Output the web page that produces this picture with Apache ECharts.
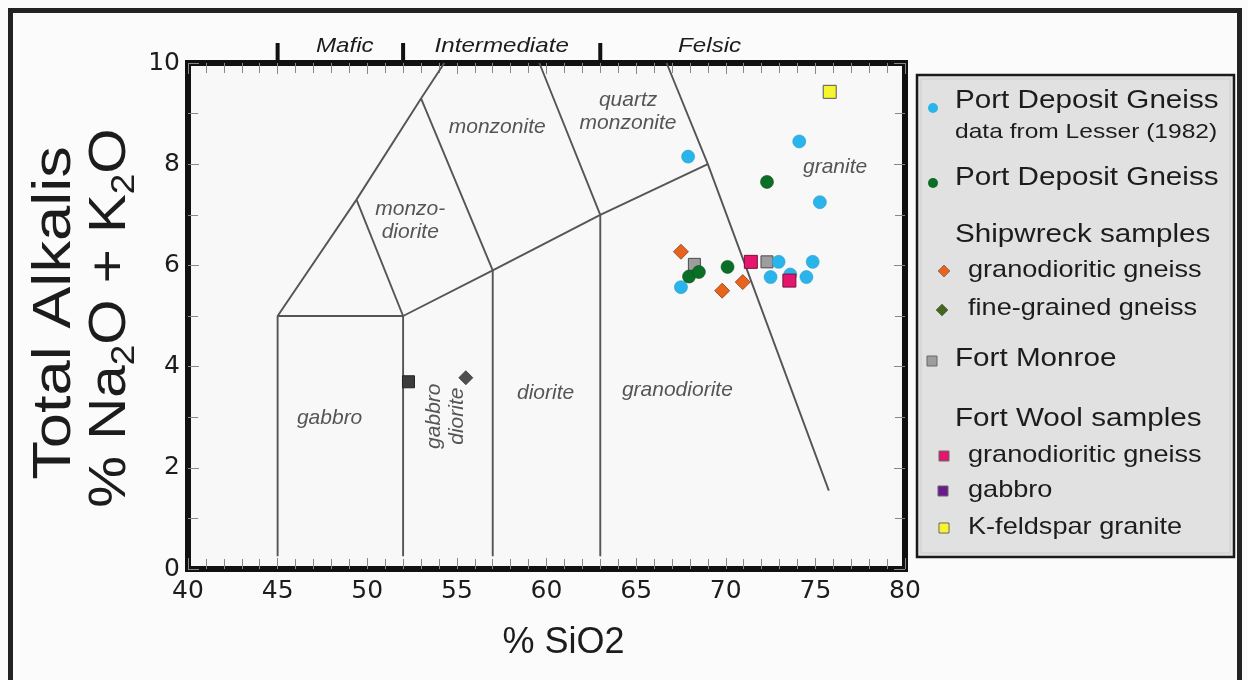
<!DOCTYPE html>
<html><head><meta charset="utf-8">
<script src="https://cdn.jsdelivr.net/npm/echarts@6/dist/echarts.min.js"></script>
<style>html,body{margin:0;padding:0;background:#fbfbfb}#c{width:1248px;height:680px}</style>
</head><body><div id="c"></div>
<script>
// ---------- data ----------
const xTickValues = [40, 45, 50, 55, 60, 65, 70, 75, 80];
const yTickValues = [0, 2, 4, 6, 8, 10];

const portDepositLesser = [[67.9,8.15],[74.1,8.45],[75.25,7.25],[72.95,6.07],[74.85,6.07],[72.5,5.77],[73.6,5.82],[74.5,5.77],[67.5,5.57]];
const portDeposit = [[72.3,7.65],[70.1,5.97],[67.95,5.78],[68.5,5.87]];
const shipwreckGranodioritic = [[67.5,6.27],[69.8,5.5],[70.95,5.67]];
const shipwreckFineGrained = [[55.5,3.78]];
const fortMonroe = [[68.25,6.02],[72.3,6.07]];
const fortWoolGranodioritic = [[71.4,6.07],[73.55,5.7]];
const fortWoolGabbro = [[52.3,3.7]];
const fortWoolKfeldspar = [[75.8,9.43]];

// TAS field boundaries (SiO2, Na2O+K2O)
const fieldLines = [
  [[45,0.25],[45,5],[52,5],[52,0.25]],
  [[45,5],[49.4,7.3],[53,9.3],[54.3,10]],
  [[49.4,7.3],[52,5],[57,5.9],[63,7],[69,8]],
  [[53,9.3],[57,5.9],[57,0.25]],
  [[59.6,10],[63,7],[63,0.25]],
  [[66.7,10],[69,8],[75.75,1.55]]
];
const fieldNames = ['monzonite','quartz\nmonzonite','granite','monzo-\ndiorite','gabbro','gabbro\ndiorite','diorite','granodiorite'];
const fieldNamePos = [[57.25,8.73],[64.55,9.03],[76.1,7.94],[52.4,6.88],[47.9,2.98],[54.4,3.02],[59.95,3.48],[67.3,3.54]];
const fieldNameRotated = [false,false,false,false,false,true,false,false];

const silicaBounds = [45, 52, 63];
const silicaClasses = ['Mafic','Intermediate','Felsic'];
const silicaClassCenters = [48.75, 57.5, 69.1];

const yTitleLines = ['Total Alkalis', '{a|% Na}{s|2}{a|O + K}{s|2}{a|O}'];
const xTitle = '% SiO2';

const legendLabels = ['Port Deposit Gneiss','data from Lesser (1982)','Port Deposit Gneiss','Shipwreck samples',
  'granodioritic gneiss','fine-grained gneiss','Fort Monroe','Fort Wool samples','granodioritic gneiss','gabbro','K-feldspar granite'];

// ---------- styles ----------
const FONT = '"Liberation Sans", Arial, sans-serif';
const C = {cyan:'#2ab5ea', green:'#0b6e26', orange:'#e8641e', fine:'#3f6a1e', fineDot:'#505050',
  gray:'#9d9d9d', pink:'#e3166c', purple:'#6a1a8c', gabbroDot:'#3c3c3c', yellow:'#f6f62e', text:'#1c1c1c'};

const chart = echarts.init(document.getElementById('c'), null, {renderer:'canvas'});

const lineSeries = fieldLines.map(pts => ({
  type:'line', data:pts, showSymbol:false, silent:true, z:1,
  lineStyle:{color:'#555', width:1.9}, animation:false
}));

function scatter(name, data, symbol, color, size, border, bw, z) {
  return {type:'scatter', name, data, symbol, symbolSize:size, z:z, animation:false,
    itemStyle:{color, opacity:1, borderColor:border, borderWidth:bw}};
}

const tickStyle = {inside:true, length:11, lineStyle:{color:'#888', width:1}};
const minorStyle = {show:true, length:10, lineStyle:{color:'#888', width:1}};

const option = {
  backgroundColor:'#fbfbfb',
  animation:false,
  grid:{left:188, right:343, top:63, bottom:111, show:true, borderWidth:6, borderColor:'#111', backgroundColor:'#f8f8f8'},
  xAxis:[{
    type:'value', min:40, max:80, interval:5, position:'bottom',
    axisLine:{show:false, onZero:false}, splitLine:{show:false},
    axisTick:tickStyle, minorTick:Object.assign({splitNumber:5}, minorStyle),
    axisLabel:{margin:10, fontSize:25, color:C.text, fontFamily:'"DejaVu Sans", sans-serif'},
    name:xTitle, nameLocation:'middle', nameGap:56,
    nameTextStyle:{fontSize:36, color:C.text, fontFamily:FONT, padding:[0,0,0,34]}
  },{
    type:'value', min:40, max:80, interval:5, position:'top',
    axisLine:{show:false, onZero:false}, splitLine:{show:false}, axisLabel:{show:false},
    axisTick:tickStyle, minorTick:Object.assign({splitNumber:5}, minorStyle)
  }],
  yAxis:[{
    type:'value', min:0, max:10, interval:2, position:'left',
    axisLine:{show:false, onZero:false}, splitLine:{show:false},
    axisTick:tickStyle, minorTick:Object.assign({splitNumber:2}, minorStyle),
    axisLabel:{margin:8, fontSize:25, color:C.text, fontFamily:'"DejaVu Sans", sans-serif'}
  },{
    type:'value', min:0, max:10, interval:2, position:'right',
    axisLine:{show:false, onZero:false}, splitLine:{show:false}, axisLabel:{show:false},
    axisTick:tickStyle, minorTick:Object.assign({splitNumber:2}, minorStyle)
  }],
  series:[
    ...lineSeries,
    {
      type:'custom', name:'fieldNames', silent:true, z:2, data:fieldNamePos,
      encode:{x:0, y:1},
      renderItem:(params, api) => {
        const i = params.dataIndex;
        const p = api.coord([api.value(0), api.value(1)]);
        return {type:'text', x:p[0], y:p[1], rotation: fieldNameRotated[i] ? Math.PI/2 : 0,
          style:{text:fieldNames[i], fill:'#555', font:'italic 21px ' + FONT, align:'center', verticalAlign:'middle', lineHeight:23}};
      }
    },
    {
      type:'custom', name:'silicaClasses', silent:true, clip:false, z:5,
      data:silicaBounds.map((b, i) => [b, silicaClassCenters[i]]),
      encode:{x:0},
      renderItem:(params, api) => {
        const i = params.dataIndex;
        const pb = api.coord([api.value(0), 10]);
        const pc = api.coord([api.value(1), 10]);
        return {type:'group', children:[
          {type:'line', shape:{x1:pb[0], y1:pb[1]-2, x2:pb[0], y2:pb[1]-20}, style:{stroke:'#111', lineWidth:4}},
          {type:'text', x:pc[0], y:pc[1]-17, scaleX:1.15,
            style:{text:silicaClasses[i], fill:'#1c1c1c', font:'italic 21px ' + FONT, align:'center', verticalAlign:'middle'}}
        ]};
      }
    },
    scatter('Fort Monroe', fortMonroe, 'rect', C.gray, 12, '#4a4a4a', 1, 3),
    scatter('Port Deposit Gneiss (Lesser 1982)', portDepositLesser, 'circle', C.cyan, 13, '#2a9ccc', 0.6, 4),
    scatter('Port Deposit Gneiss', portDeposit, 'circle', C.green, 13, '#08501c', 0.6, 5),
    scatter('Shipwreck granodioritic gneiss', shipwreckGranodioritic, 'diamond', C.orange, 15, '#8a3a10', 0.8, 6),
    scatter('Shipwreck fine-grained gneiss', shipwreckFineGrained, 'diamond', C.fineDot, 14, '#333', 0.8, 6),
    scatter('Fort Wool granodioritic gneiss', fortWoolGranodioritic, 'rect', C.pink, 13, '#7a1040', 1, 7),
    scatter('Fort Wool gabbro', fortWoolGabbro, 'rect', C.gabbroDot, 12, '#222', 1, 7),
    scatter('Fort Wool K-feldspar granite', fortWoolKfeldspar, 'rect', C.yellow, 13, '#555', 1, 7)
  ],
  graphic:[]
};

// ---------- legend (drawn as a boxed key) ----------
const legendLayout = [
  {t:0, x:955, y:101, fs:26, sx:1.14, m:'circle', c:C.cyan, mx:933, my:108},
  {t:1, x:955, y:132, fs:21, sx:1.17},
  {t:2, x:955, y:178, fs:26, sx:1.14, m:'circle', c:C.green, mx:933, my:183},
  {t:3, x:955, y:235, fs:26, sx:1.14},
  {t:4, x:968, y:270, fs:24, sx:1.13, m:'diamond', c:C.orange, mx:944, my:271},
  {t:5, x:968, y:308, fs:24, sx:1.13, m:'diamond', c:C.fine, mx:942, my:310},
  {t:6, x:955, y:359, fs:26, sx:1.14, m:'rect', c:C.gray, mx:932, my:361},
  {t:7, x:955, y:419, fs:26, sx:1.14},
  {t:8, x:968, y:455, fs:24, sx:1.13, m:'rect', c:C.pink, mx:944, my:456},
  {t:9, x:968, y:490, fs:24, sx:1.13, m:'rect', c:C.purple, mx:943, my:491},
  {t:10, x:968, y:527, fs:24, sx:1.13, m:'rect', c:C.yellow, mx:944, my:528}
];
const legendChildren = [
  {type:'rect', shape:{x:917, y:75, width:317, height:482}, style:{fill:'#e1e1e1', stroke:'#1a1a1a', lineWidth:2.5}},
  {type:'rect', shape:{x:921, y:79, width:309, height:474}, style:{fill:'none', stroke:'#cdcdcd', lineWidth:1}}
];
legendLayout.forEach(L => {
  legendChildren.push({type:'text', x:L.x, y:L.y, scaleX:L.sx,
    style:{text:legendLabels[L.t], fill:C.text, font:L.fs + 'px ' + FONT, align:'left', verticalAlign:'middle'}});
  if (L.m === 'circle') legendChildren.push({type:'circle', shape:{cx:L.mx, cy:L.my, r:5}, style:{fill:L.c}});
  if (L.m === 'rect') legendChildren.push({type:'rect', shape:{x:L.mx-5, y:L.my-5, width:10, height:10}, style:{fill:L.c, stroke:'#666', lineWidth:1}});
  if (L.m === 'diamond') legendChildren.push({type:'polygon', shape:{points:[[L.mx,L.my-6],[L.mx+6,L.my],[L.mx,L.my+6],[L.mx-6,L.my]]}, style:{fill:L.c, stroke:'#555', lineWidth:0.6}});
});

// y-axis title (two rotated lines)
const yTitle = [
  {type:'text', x:55, y:313, rotation:Math.PI/2, scaleX:1.17,
    style:{text:yTitleLines[0], fill:C.text, font:'54px ' + FONT, align:'center', verticalAlign:'middle'}},
  {type:'text', x:111, y:318, rotation:Math.PI/2, scaleX:1.12,
    style:{text:yTitleLines[1], align:'center', verticalAlign:'middle',
      rich:{a:{fontSize:52, fontFamily:FONT, fill:C.text, lineHeight:60},
            s:{fontSize:33, fontFamily:FONT, fill:C.text, lineHeight:33, verticalAlign:'bottom'}}}}
];

option.graphic = [
  {type:'rect', shape:{x:10.5, y:10.5, width:1229, height:700}, style:{fill:'none', stroke:'#222', lineWidth:5}, z:100},
  {type:'group', children:legendChildren, z:50},
  {type:'group', children:yTitle, z:50}
];

chart.setOption(option);
</script>
</body></html>
